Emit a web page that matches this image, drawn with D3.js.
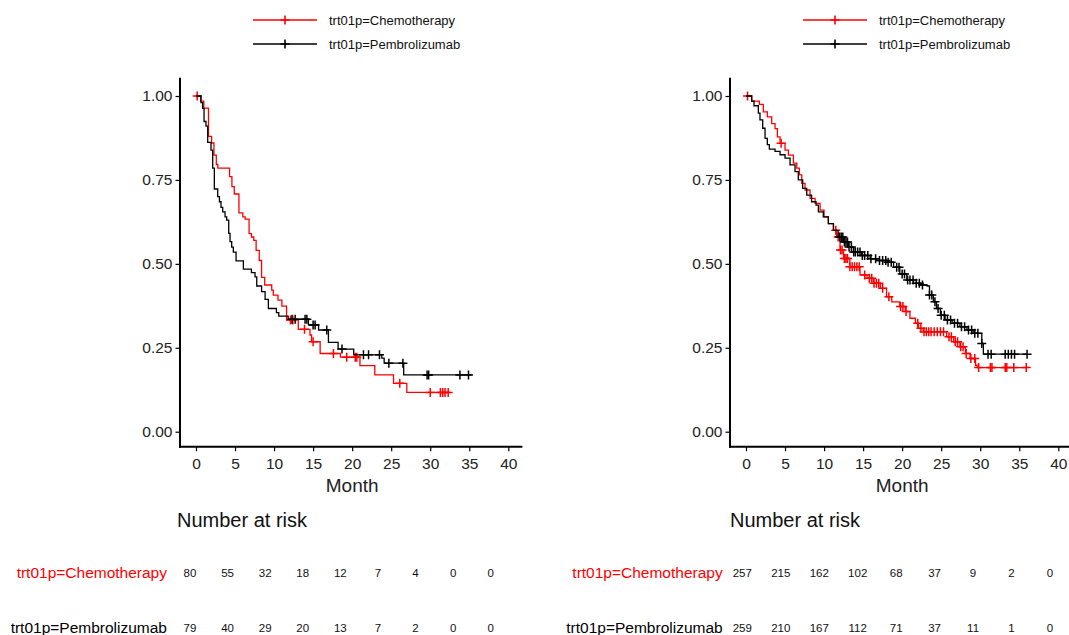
<!DOCTYPE html>
<html>
<head>
<meta charset="utf-8">
<script src="https://cdn.jsdelivr.net/npm/d3@7"></script>
<style>
  body { margin: 0; background: #fff; }
  svg { display: block; }
  text { font-family: "Liberation Sans", Arial, sans-serif; }
</style>
</head>
<body>
<div id="wrapper"></div>
<script>
// tick labels / categories
const months = [0, 5, 10, 15, 20, 25, 30, 35, 40]
const yTicks = [0, 0.25, 0.5, 0.75, 1]
const groups = ["trt01p=Chemotherapy", "trt01p=Pembrolizumab"]

// left panel, chemotherapy (step times / survival)
const leftChemoTime = [0, 0.6, 1.0, 1.6, 2.0, 2.3, 2.6, 2.8, 4.3, 4.6, 4.9, 5.5, 6.0, 6.3, 6.8, 7.1, 7.4, 7.7, 8.1, 8.4, 8.8, 9.7, 9.9, 10.5, 11.0, 11.6, 13.1, 14.6, 14.8, 15.9, 18.5, 21.0, 22.9, 25.3, 27.0]
const leftChemoSurv = [1, 0.985, 0.964, 0.88, 0.86, 0.824, 0.796, 0.785, 0.76, 0.73, 0.708, 0.652, 0.64, 0.633, 0.59, 0.58, 0.57, 0.54, 0.51, 0.46, 0.437, 0.422, 0.407, 0.392, 0.374, 0.333, 0.305, 0.288, 0.268, 0.233, 0.222, 0.197, 0.169, 0.144, 0.117]
const leftChemoEnd = 32.6
const leftChemoCens = [0.15, 12.1, 12.4, 13.9, 15.0, 17.6, 19.3, 20.4, 20.6, 26.1, 30.0, 31.3, 31.6, 31.9, 32.3]

// left panel, pembrolizumab
const leftPembroTime = [0, 0.64, 0.85, 1.03, 1.28, 1.5, 1.92, 2.14, 2.35, 2.78, 3.0, 3.2, 3.42, 3.72, 3.93, 4.19, 4.36, 4.57, 4.78, 5.13, 6.07, 7.1, 7.56, 7.78, 8.4, 8.85, 9.27, 10.3, 10.6, 11.8, 14.4, 15.7, 16.96, 18.2, 20.2, 23.8, 24.1, 26.6]
const leftPembroSurv = [1, 0.98, 0.963, 0.924, 0.91, 0.862, 0.839, 0.785, 0.723, 0.7, 0.685, 0.668, 0.655, 0.64, 0.63, 0.591, 0.566, 0.55, 0.535, 0.509, 0.484, 0.474, 0.461, 0.434, 0.417, 0.394, 0.367, 0.355, 0.344, 0.335, 0.318, 0.303, 0.266, 0.246, 0.229, 0.219, 0.204, 0.169]
const leftPembroEnd = 35.3
const leftPembroCens = [12.3, 12.7, 13.97, 14.2, 15.0, 15.25, 16.75, 18.7, 21.45, 22.1, 23.5, 24.7, 26.5, 29.6, 29.8, 33.8, 34.9]

// right panel, chemotherapy
const rightChemoTime = [0, 0.73, 1.71, 2.22, 2.73, 3.29, 3.72, 4.02, 4.36, 5.0, 5.43, 6.07, 6.5, 6.84, 7.14, 7.56, 8.2, 8.85, 9.49, 10.0, 10.55, 11.2, 11.6, 12.05, 12.5, 13.3, 14.6, 15.5, 16.3, 17.2, 18.0, 18.67, 19.7, 20.4, 21.0, 21.7, 22.1, 22.7, 25.7, 26.6, 27.4, 28.1, 28.7, 29.4, 29.6]
const rightChemoSurv = [1, 0.985, 0.975, 0.953, 0.938, 0.918, 0.903, 0.878, 0.859, 0.839, 0.824, 0.8, 0.785, 0.765, 0.74, 0.72, 0.695, 0.68, 0.66, 0.64, 0.62, 0.6, 0.58, 0.541, 0.516, 0.491, 0.467, 0.457, 0.442, 0.427, 0.402, 0.387, 0.373, 0.358, 0.338, 0.323, 0.308, 0.298, 0.283, 0.268, 0.253, 0.233, 0.218, 0.198, 0.191]
const rightChemoEnd = 36.0
const rightChemoCens = [0.2, 4.5, 11.5, 11.8, 12.1, 12.3, 12.6, 12.8, 13.0, 13.3, 13.6, 13.9, 14.2, 14.5, 15.2, 15.8, 16.1, 16.4, 16.7, 17.0, 17.5, 18.3, 19.8, 20.1, 20.5, 22.0, 22.4, 22.8, 23.1, 23.4, 23.7, 24.1, 24.5, 24.9, 25.3, 26.0, 26.3, 26.8, 27.1, 27.5, 27.8, 28.2, 28.8, 29.3, 29.8, 31.3, 31.5, 33.2, 33.4, 34.3, 35.9]

// right panel, pembrolizumab
const rightPembroTime = [0, 0.73, 1.03, 1.58, 1.79, 2.14, 2.44, 2.73, 2.99, 3.72, 4.36, 5.0, 5.64, 6.28, 6.7, 7.26, 7.78, 8.4, 8.97, 9.27, 9.9, 10.55, 11.2, 11.8, 12.5, 13.1, 13.76, 14.8, 15.9, 16.75, 18.0, 18.9, 19.7, 20.6, 21.45, 22.3, 23.2, 23.5, 24.0, 24.4, 24.9, 25.5, 26.4, 27.4, 28.3, 29.1, 30.2, 30.4]
const rightPembroSurv = [1, 0.985, 0.971, 0.949, 0.929, 0.904, 0.874, 0.855, 0.842, 0.835, 0.825, 0.815, 0.795, 0.775, 0.75, 0.725, 0.705, 0.685, 0.675, 0.655, 0.64, 0.62, 0.6, 0.58, 0.565, 0.55, 0.535, 0.525, 0.515, 0.51, 0.505, 0.49, 0.47, 0.452, 0.442, 0.437, 0.434, 0.407, 0.387, 0.367, 0.347, 0.333, 0.323, 0.313, 0.303, 0.293, 0.263, 0.231]
const rightPembroEnd = 36.0
const rightPembroCens = [12.0, 12.2, 12.4, 12.6, 12.8, 13.0, 13.2, 13.5, 13.8, 14.0, 14.3, 14.6, 14.9, 15.2, 15.6, 16.0, 16.6, 17.1, 17.5, 17.9, 18.2, 18.6, 19.3, 19.6, 20.0, 20.3, 20.7, 21.0, 21.4, 21.8, 22.2, 22.6, 23.5, 23.8, 24.2, 24.6, 25.0, 25.4, 25.8, 26.2, 26.7, 27.1, 27.6, 28.0, 28.5, 28.9, 29.3, 29.7, 30.2, 31.0, 31.4, 33.2, 33.6, 34.0, 34.4, 36.0]

// number at risk
const leftRiskChemo = [80, 55, 32, 18, 12, 7, 4, 0, 0]
const leftRiskPembro = [79, 40, 29, 20, 13, 7, 2, 0, 0]
const rightRiskChemo = [257, 215, 162, 102, 68, 37, 9, 2, 0]
const rightRiskPembro = [259, 210, 167, 112, 71, 37, 11, 1, 0]

const colors = ["#ff0000", "#000000"]

let svg = d3.select("#wrapper")
    .append("svg")
    .attr("width", 1069)
    .attr("height", 635)

function survAt(times, surv, t) {
    let s = 1
    for (let i = 0; i < times.length; i++) if (times[i] <= t) s = surv[i]
    return s
}

let panels = [
    {
        dx: 0, riskRange: [190, 490.7], labelX: 167, titleX: 177,
        series: [
            { time: leftChemoTime, surv: leftChemoSurv, end: leftChemoEnd, cens: leftChemoCens, risk: leftRiskChemo },
            { time: leftPembroTime, surv: leftPembroSurv, end: leftPembroEnd, cens: leftPembroCens, risk: leftRiskPembro }
        ]
    },
    {
        dx: 550, riskRange: [192.3, 500], labelX: 172.7, titleX: 180,
        series: [
            { time: rightChemoTime, surv: rightChemoSurv, end: rightChemoEnd, cens: rightChemoCens, risk: rightRiskChemo },
            { time: rightPembroTime, surv: rightPembroSurv, end: rightPembroEnd, cens: rightPembroCens, risk: rightRiskPembro }
        ]
    }
]

let plus = "M-4.5,0H4.5M0,-4.5V4.5"

panels.forEach(p => {
    let g = svg.append("g").attr("transform", `translate(${p.dx},0)`)

    let x = d3.scaleLinear().domain([0, 40]).range([196, 508.3])
    let y = d3.scaleLinear().domain([0, 1]).range([431.7, 96])
    let xAxisY = y(-0.0447)
    let yAxisX = x(-2.05)

    // legend
    groups.forEach((name, i) => {
        let ly = 20 + i * 24
        g.append("line")
            .attr("x1", 253).attr("x2", 317).attr("y1", ly).attr("y2", ly)
            .attr("stroke", colors[i]).attr("stroke-width", 1.5)
        g.append("path").attr("d", plus)
            .attr("transform", `translate(285,${ly})`)
            .attr("stroke", colors[i]).attr("stroke-width", 1.6).attr("fill", "none")
        g.append("text").attr("x", 329).attr("y", ly + 4.5)
            .attr("font-size", 13).attr("fill", "#111").text(name)
    })

    // y axis
    let yAxis = g.append("g")
        .attr("transform", `translate(${yAxisX},0)`)
        .call(d3.axisLeft(y).tickValues(yTicks).tickFormat(d3.format(".2f")).tickSize(4.5).tickPadding(3))
    yAxis.select(".domain").remove()
    yAxis.selectAll("line").attr("stroke", "#000").attr("stroke-width", 1.2)
    yAxis.selectAll("text").attr("font-size", 15.5).attr("fill", "#222")
        .style("font-family", '"Liberation Sans", Arial, sans-serif')

    // x axis
    let xAxis = g.append("g")
        .attr("transform", `translate(0,${xAxisY})`)
        .call(d3.axisBottom(x).tickValues(months).tickSize(4.5).tickPadding(6.5))
    xAxis.select(".domain").remove()
    xAxis.selectAll("line").attr("stroke", "#000").attr("stroke-width", 1.2)
    xAxis.selectAll("text").attr("font-size", 15.5).attr("fill", "#222")
        .style("font-family", '"Liberation Sans", Arial, sans-serif')

    g.append("line")
        .attr("x1", yAxisX).attr("x2", yAxisX)
        .attr("y1", y(1.054)).attr("y2", xAxisY + 1)
        .attr("stroke", "#000").attr("stroke-width", 2)
    g.append("line")
        .attr("x1", yAxisX - 1).attr("x2", x(41.8))
        .attr("y1", xAxisY).attr("y2", xAxisY)
        .attr("stroke", "#000").attr("stroke-width", 2)

    g.append("text")
        .attr("x", x(20)).attr("y", 491.5)
        .attr("text-anchor", "middle").attr("font-size", 19).attr("fill", "#222")
        .text("Month")

    // curves
    let line = d3.line()
        .x(d => x(d[0]))
        .y(d => y(d[1]))
        .curve(d3.curveStepAfter)

    p.series.forEach((s, i) => {
        let pts = s.time.map((t, k) => [t, s.surv[k]])
        pts.push([s.end, s.surv[s.surv.length - 1]])
        g.append("path")
            .attr("d", line(pts))
            .attr("fill", "none")
            .attr("stroke", colors[i])
            .attr("stroke-width", 1.3)

        g.append("g").selectAll("path")
            .data(s.cens)
            .enter()
            .append("path")
            .attr("d", plus)
            .attr("transform", t => `translate(${x(t)},${y(survAt(s.time, s.surv, t))})`)
            .attr("stroke", colors[i])
            .attr("stroke-width", 1.5)
            .attr("fill", "none")
    })

    // number at risk table
    g.append("text")
        .attr("x", p.titleX).attr("y", 527)
        .attr("font-size", 20).attr("fill", "#111")
        .text("Number at risk")

    let rx = d3.scalePoint().domain(months).range(p.riskRange)
    p.series.forEach((s, i) => {
        let ry = i === 0 ? 578 : 633.3
        g.append("text")
            .attr("x", p.labelX).attr("y", ry)
            .attr("text-anchor", "end").attr("font-size", 15.5)
            .attr("fill", colors[i]).text(groups[i])
        g.append("g").selectAll("text")
            .data(s.risk)
            .enter()
            .append("text")
            .attr("x", (d, k) => rx(months[k]))
            .attr("y", ry - 1)
            .attr("text-anchor", "middle")
            .attr("font-size", 11.5)
            .attr("fill", "#111")
            .text(d => d)
    })
})
</script>
</body>
</html>
